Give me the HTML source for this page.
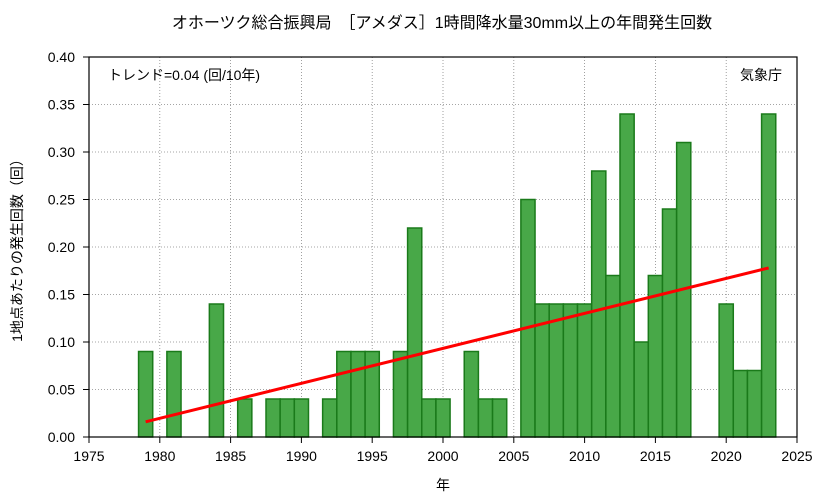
<!DOCTYPE html>
<html><head><meta charset="utf-8"><style>
body{margin:0;background:#fff;}
text{font-family:"Liberation Sans","Noto Sans CJK JP",sans-serif;}
</style></head><body>
<svg id="c" width="833" height="498" xmlns="http://www.w3.org/2000/svg">
<text x="442" y="28" text-anchor="middle" font-size="16">オホーツク総合振興局　［アメダス］1時間降水量30mm以上の年間発生回数</text>
<g id="grid"></g><g id="bars"></g><g id="trend"></g>
<rect x="89" y="57" width="708" height="380" fill="none" stroke="#000" stroke-width="1.2"/>
<g id="ticks"></g>
<text x="108" y="80" font-size="14">トレンド=0.04 (回/10年)</text>
<text x="782" y="80" font-size="14" text-anchor="end">気象庁</text>
<text x="443" y="490" font-size="14" text-anchor="middle">年</text>
<text transform="translate(22,247) rotate(-90)" font-size="14" text-anchor="middle">1地点あたりの発生回数（回）</text>
</svg>
<script>
const years=[1979,1981,1984,1986,1988,1989,1990,1992,1993,1994,1995,1997,1998,1999,2000,2002,2003,2004,2006,2007,2008,2009,2010,2011,2012,2013,2014,2015,2016,2017,2020,2021,2022,2023];
const values=[0.09,0.09,0.14,0.04,0.04,0.04,0.04,0.04,0.09,0.09,0.09,0.09,0.22,0.04,0.04,0.09,0.04,0.04,0.25,0.14,0.14,0.14,0.14,0.28,0.17,0.34,0.10,0.17,0.24,0.31,0.14,0.07,0.07,0.34];
const xTicks=[1975,1980,1985,1990,1995,2000,2005,2010,2015,2020,2025];
const yTicks=[0,0.05,0.10,0.15,0.20,0.25,0.30,0.35,0.40];
const trendStart=[1979,0.016], trendEnd=[2023,0.178];
const X=v=>89+(v-1975)*708/50, Y=v=>437-v*380/0.4;
const NS="http://www.w3.org/2000/svg";
function mk(p,t,a){const e=document.createElementNS(NS,t);for(const k in a)e.setAttribute(k,a[k]);document.getElementById(p).appendChild(e);return e;}
xTicks.forEach(t=>{
 const g=mk('grid','line',{x1:X(t),x2:X(t),y1:57,y2:437,stroke:'#888','stroke-dasharray':'1,2','stroke-width':0.8});
 
 
 const l=mk('ticks','line',{x1:X(t),x2:X(t),y1:437,y2:443,stroke:'#000'});
 
 
 const tx=mk('ticks','text',{x:X(t),y:461,'font-size':14,'text-anchor':'middle'});tx.textContent=t;
 
 
});
yTicks.forEach(t=>{
 const g=mk('grid','line',{x1:89,x2:797,y1:Y(t),y2:Y(t),stroke:'#888','stroke-dasharray':'1,2','stroke-width':0.8});
 
 
 const l=mk('ticks','line',{x1:83,x2:89,y1:Y(t),y2:Y(t),stroke:'#000'});
 
 
 const tx=mk('ticks','text',{x:75,y:Y(t)+5,'font-size':14,'text-anchor':'end'});tx.textContent=t.toFixed(2);
 
 
});
years.forEach((yr,i)=>{
 const w=708/50;
 const r=mk('bars','rect',{x:X(yr)-w/2,y:Y(values[i]),width:w,height:Y(0)-Y(values[i]),fill:'#48a848',stroke:'#1a7a1a','stroke-width':1.5});
 
 
});
const tl=mk('trend','line',{x1:X(trendStart[0]),y1:Y(trendStart[1]),x2:X(trendEnd[0]),y2:Y(trendEnd[1]),stroke:'#f00','stroke-width':3});


</script>
</body></html>
